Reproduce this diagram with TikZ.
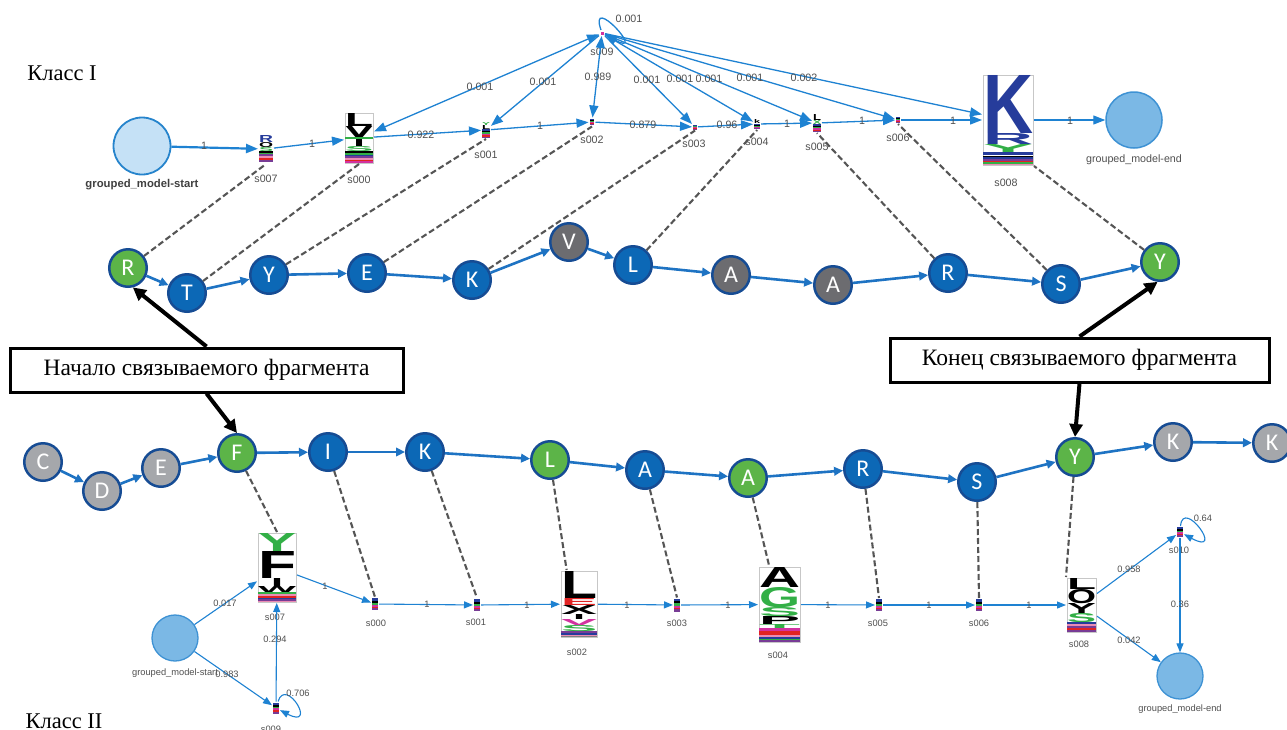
\documentclass[tikz,border=0pt]{standalone}
\usepackage{fontspec}
\setmainfont{Liberation Serif}
\newfontfamily\arial{Liberation Sans}
\newfontfamily\calibri{Carlito}
\usepackage{graphicx}
\usetikzlibrary{arrows.meta,calc}
\definecolor{seqblue}{RGB}{12,104,182}
\definecolor{seqborder}{RGB}{22,76,148}
\definecolor{seqgreen}{RGB}{92,180,72}
\definecolor{seqdark}{RGB}{108,108,112}
\definecolor{seqlight}{RGB}{165,167,171}
\definecolor{seqarrow}{RGB}{30,115,195}
\definecolor{hmmblue}{RGB}{30,130,210}
\definecolor{startfill}{RGB}{197,225,246}
\definecolor{startborder}{RGB}{38,132,204}
\definecolor{endfill}{RGB}{123,184,229}
\definecolor{endborder}{RGB}{62,146,212}
\definecolor{labgray}{RGB}{80,80,80}
\definecolor{dashgray}{RGB}{85,85,85}
\definecolor{logoblue}{RGB}{38,60,155}
\definecolor{logogreen}{RGB}{50,175,70}
\definecolor{logored}{RGB}{225,35,35}
\definecolor{logomag}{RGB}{210,50,160}
\definecolor{logopurple}{RGB}{120,60,150}
\definecolor{logopink}{RGB}{235,140,180}
\newcounter{lgc}
\newcommand\lgl[6]{\stepcounter{lgc}\node[anchor=north west,inner sep=0pt,outer sep=0pt,text=#5] (lg\thelgc) at (#1,#2) {\resizebox{#3pt}{#4pt}{\arial\bfseries #6}};}
\newcommand\lgs[5]{\fill[#5] (#1,#2) rectangle ++(#3,#4);}
\newcommand\tinylogo[4]{%
 \begin{scope}[shift={(#1,#2)},xscale=#3/6,yscale=#4/12]
 \fill[logoblue] (-3,-6) rectangle (3,-3.5);
 \fill[black] (-3,-3.5) rectangle (3,-1.5);
 \fill[logogreen] (-3,-1.5) rectangle (3,0.5);
 \fill[logomag] (-3,0.5) rectangle (3,2.5);
 \fill[logored] (-3,2.5) rectangle (3,4);
 \fill[logopurple] (-3,4) rectangle (3,6);
 \end{scope}}
\tikzset{
 seqn/.style={circle, minimum size=37.5pt, inner sep=0pt, draw=seqborder, line width=2.5pt, text=white, font=\calibri\fontsize{24}{24}\selectfont},
 sb/.style={seqn, fill=seqblue},
 sg/.style={seqn, fill=seqgreen},
 sd/.style={seqn, fill=seqdark},
 sl/.style={seqn, fill=seqlight},
 sarr/.style={draw=seqarrow, line width=2.6pt, -{Triangle[length=9pt,width=8.5pt]}},
 st/.style={rectangle, inner sep=0pt, outer sep=1pt},
 hedge/.style={draw=hmmblue, line width=1.3pt, -{Triangle[length=12pt,width=9pt]}},
 hboth/.style={draw=hmmblue, line width=1.3pt, {Triangle[length=12pt,width=9pt]}-{Triangle[length=12pt,width=9pt]}},
 hedgeb/.style={draw=hmmblue, line width=1.1pt, -{Triangle[length=9pt,width=7pt]}},
 tlab/.style={font=\arial\fontsize{10.7}{11}\selectfont, text=labgray, inner sep=0pt},
 blab/.style={font=\arial\fontsize{9.3}{10}\selectfont, text=labgray, inner sep=0pt},
 algn/.style={draw=dashgray, line width=2.1pt, dash pattern=on 6pt off 3pt},
 blk/.style={draw=black, line width=4pt, -{Triangle[length=13pt,width=13pt]}},
 cbox/.style={draw=black, line width=3pt, fill=white, inner sep=0pt, font=\fontsize{23.5}{24}\selectfont},
 lgframe/.style={draw=black!22, line width=0.6pt},
}
\begin{document}
\begin{tikzpicture}[x=1pt,y=-1pt]
\useasboundingbox (0,0) rectangle (1287,729);
\fill[white] (0,0) rectangle (1287,729);

% ---------- class labels
\node[anchor=base, inner sep=0pt, font=\fontsize{22.5}{23}\selectfont] (cls1) at (62,80) {Класс I};
\node[anchor=base, inner sep=0pt, font=\fontsize{22.5}{23}\selectfont] (cls2) at (64,728) {Класс II};

% ---------- top logos
\lgl{259}{135}{14}{7}{logoblue}{R}
\lgl{259}{142}{14}{5}{black}{O}
\lgl{259}{147}{14}{4}{logogreen}{S}
\lgs{259}{151}{14}{1.5}{black}
\lgs{259}{152.5}{14}{1.5}{logogreen}
\lgs{259}{154}{14}{2}{logopurple}
\lgs{259}{156}{14}{2}{logopink}
\lgs{259}{158}{14}{1.5}{logored}
\lgs{259}{159.5}{14}{2}{logopurple}

\draw[lgframe] (345,113) rectangle (373,163);
\lgl{345}{113}{28}{13}{black}{L}
\lgl{345}{126}{28}{20}{black}{Y}
\lgs{345}{137}{28}{2}{logogreen}
\lgl{345}{146}{28}{5}{logogreen}{S}
\lgs{345}{151}{28}{1.5}{black}
\lgs{345}{152.5}{28}{2}{logogreen}
\lgs{345}{154.5}{28}{1.5}{logoblue}
\lgs{345}{156}{28}{2}{logopurple}
\lgs{345}{158}{28}{1.5}{logopink}
\lgs{345}{159.5}{28}{1.5}{logored}
\lgs{345}{161}{28}{1.5}{logomag}

\lgl{482}{122}{8}{3}{logogreen}{Y}
\lgl{482}{125}{8}{4}{black}{L}
\tinylogo{486}{133.5}{8}{9}
\tinylogo{592}{122}{4}{6}
\tinylogo{695}{127}{4}{5}
\lgl{754}{119}{6}{4}{black}{k}
\tinylogo{757}{126.5}{6}{5}
\lgl{813}{114}{8}{6}{black}{L}
\lgl{813}{120}{8}{4}{logogreen}{X}
\tinylogo{817}{128}{8}{8}
\tinylogo{898}{120}{4}{6}
\fill[logomag] (600.5,31.5) rectangle (603.5,34.5);

\draw[lgframe] (983,75) rectangle (1033,165);
\lgl{983}{75}{50}{58}{logoblue}{K}
\lgl{983}{133}{50}{11}{logoblue}{R}
\lgl{983}{144}{50}{8}{logogreen}{Y}
\lgs{983}{152}{50}{3}{logoblue}
\lgs{983}{155.5}{50}{1.5}{black}
\lgs{983}{157}{50}{2}{logoblue}
\lgs{983}{159}{50}{1.5}{logopurple}
\lgs{983}{160.5}{50}{1.5}{logored}
\lgs{983}{162}{50}{1.5}{logogreen}
\lgs{983}{163.5}{50}{1.5}{logopink}

% ---------- top HMM nodes
\node[circle, minimum size=57pt, inner sep=0pt, draw=startborder, fill=startfill, line width=1.8pt] (tS) at (142,146) {};
\node[st, minimum width=14pt, minimum height=28pt] (t7) at (266,149) {};
\node[st, minimum width=28pt, minimum height=50pt] (t0) at (359,138) {};
\node[st, minimum width=8pt, minimum height=16pt] (t1) at (486,130) {};
\node[st, minimum width=5pt, minimum height=7pt] (t2) at (592,122) {};
\node[st, minimum width=4pt, minimum height=5pt] (t3) at (695,127) {};
\node[st, minimum width=6pt, minimum height=10pt] (t4) at (757,124) {};
\node[st, minimum width=8pt, minimum height=18pt] (t5) at (817,123) {};
\node[st, minimum width=4pt, minimum height=6pt] (t6) at (898,120) {};
\node[st, minimum width=50pt, minimum height=90pt] (t8) at (1008,120) {};
\node[circle, minimum size=56pt, inner sep=0pt, draw=endborder, fill=endfill, line width=1.5pt] (tE) at (1134,120) {};
\node[st, minimum width=4pt, minimum height=4pt] (t9) at (602,33) {};

% top state labels
\node[inner sep=0pt, font=\arial\bfseries\fontsize{11.3}{12}\selectfont, text=black!75] (tSl) at (142,185) {grouped\_model-start};
\node[tlab] (t7l) at (266,179) {s007};
\node[tlab] (t0l) at (359,180) {s000};
\node[tlab] (t1l) at (486,155) {s001};
\node[tlab] (t2l) at (592,140) {s002};
\node[tlab] (t3l) at (694,144) {s003};
\node[tlab] (t4l) at (757,142) {s004};
\node[tlab] (t5l) at (817,147) {s005};
\node[tlab] (t6l) at (898,138) {s006};
\node[tlab] (t8l) at (1006,183) {s008};
\node[tlab] (t9l) at (602,52) {s009};
\node[tlab] (tEl) at (1134,160) {grouped\_model-end};

% top edges
\draw[hedge, line width=2.2pt] (tS) -- (t7);
\draw[hedge] (t7) -- (t0);
\draw[hedge] (t0) -- (t1);
\draw[hedge] (t1) -- (t2);
\draw[hedge] (t2) -- (t3);
\draw[hedge] (t3) -- (t4);
\draw[hedge] (t4) -- (t5);
\draw[hedge] (t5) -- (t6);
\draw[hedge] (t6) -- (t8);
\draw[hedge] (t8) -- (tE);
\draw[hboth] (t0) -- (t9);
\draw[hedge] (t9) -- (t1);
\draw[hboth] (t9) -- (t2);
\draw[hedge] (t9) -- (t3);
\draw[hedge] (t9) -- (t4);
\draw[hedge] (t9) -- (t5);
\draw[hedge] (t9) -- (t6);
\draw[hedge] (t9) -- (t8);
\draw[hedge] (t9) .. controls (588,-8) and (648,58) .. (t9);

% top edge labels
\node[tlab] (e1) at (204,146) {1};
\node[tlab] (e2) at (312,144) {1};
\node[tlab] (e3) at (421,135) {0.922};
\node[tlab] (e4) at (540,126) {1};
\node[tlab] (e5) at (643,125) {0.879};
\node[tlab] (e6) at (727,125) {0.96};
\node[tlab] (e7) at (787,124) {1};
\node[tlab] (e8) at (862,121) {1};
\node[tlab] (e9) at (953,121) {1};
\node[tlab] (e10) at (1070,121) {1};
\node[tlab] (e11) at (480,87) {0.001};
\node[tlab] (e12) at (543,82) {0.001};
\node[tlab] (e13) at (598,77) {0.989};
\node[tlab] (e14) at (647,80) {0.001};
\node[tlab] (e15) at (680,79) {0.001};
\node[tlab] (e16) at (709,79) {0.001};
\node[tlab] (e17) at (750,78) {0.001};
\node[tlab] (e18) at (804,78) {0.002};
\node[tlab] (e19) at (629,19) {0.001};

% ---------- top sequence
\node[sg] (qR) at (128,268) {R};
\node[sb] (qT) at (187,293) {T};
\node[sb] (qY) at (269,275) {Y};
\node[sb] (qE) at (367,273) {E};
\node[sb] (qK) at (472,280) {K};
\node[sd] (qV) at (569,242) {V};
\node[sb] (qL) at (633,265) {L};
\node[sd] (qA) at (731,275) {A};
\node[sd] (qAA) at (833,285) {A};
\node[sb] (qRR) at (948,273) {R};
\node[sb] (qS) at (1061,284) {S};
\node[sg] (qYY) at (1160,262) {Y};
\draw[sarr] (qR) -- (qT);
\draw[sarr] (qT) -- (qY);
\draw[sarr] (qY) -- (qE);
\draw[sarr] (qE) -- (qK);
\draw[sarr] (qK) -- (qV);
\draw[sarr] (qV) -- (qL);
\draw[sarr] (qL) -- (qA);
\draw[sarr] (qA) -- (qAA);
\draw[sarr] (qAA) -- (qRR);
\draw[sarr] (qRR) -- (qS);
\draw[sarr] (qS) -- (qYY);

% top alignment lines
\draw[algn] (qR) -- (t7.south);
\draw[algn] (qT) -- (t0.south);
\draw[algn] (qY) -- (t1.south);
\draw[algn] (qE) -- (t2.south);
\draw[algn] (qK) -- (t3.south);
\draw[algn] (qL) -- (t4.south);
\draw[algn] (qRR) -- (t5.south);
\draw[algn] (qS) -- (t6.south);
\draw[algn] (qYY) -- (t8.south east);

% ---------- boxes and black arrows
\node[cbox, minimum width=393pt, minimum height=44pt] (box1) at (206.5,370) {Начало связываемого фрагмента};
\node[cbox, minimum width=379pt, minimum height=44pt] (box2) at (1079.5,360) {Конец связываемого фрагмента};

% ---------- bottom sequence
\node[sl] (pC) at (43,462) {C};
\node[sl] (pD) at (102,491) {D};
\node[sl] (pE) at (161,468) {E};
\node[sg] (pF) at (237,453) {F};
\node[sb] (pI) at (328,452) {I};
\node[sb] (pK) at (425,452) {K};
\node[sg] (pL) at (550,460) {L};
\node[sb] (pA) at (645,470) {A};
\node[sg] (pAA) at (748,478) {A};
\node[sb] (pR) at (863,469) {R};
\node[sb] (pS) at (977,482) {S};
\node[sg] (pY) at (1075,457) {Y};
\node[sl] (pK2) at (1173,442) {K};
\node[sl] (pK3) at (1272,443) {K};
\draw[sarr] (pC) -- (pD);
\draw[sarr] (pD) -- (pE);
\draw[sarr] (pE) -- (pF);
\draw[sarr] (pF) -- (pI);
\draw[sarr] (pI) -- (pK);
\draw[sarr] (pK) -- (pL);
\draw[sarr] (pL) -- (pA);
\draw[sarr] (pA) -- (pAA);
\draw[sarr] (pAA) -- (pR);
\draw[sarr] (pR) -- (pS);
\draw[sarr] (pS) -- (pY);
\draw[sarr] (pY) -- (pK2);
\draw[sarr] (pK2) -- (pK3);

\draw[blk] (box1.north) -- (qR.-76);
\draw[blk] (box1.south) -- (pF.north);
\draw[blk] (box2.north) -- (qYY.-97);
\draw[blk] (box2.south) -- (pY.north);

% ---------- bottom logos
\draw[lgframe] (258,533) rectangle (296,602);
\lgl{258}{533}{38}{18}{logogreen}{Y}
\lgl{258}{551}{38}{27}{black}{F}
\lgl{271}{578}{12}{8}{black}{I}
\lgl{258}{586}{38}{6}{black}{W}
\lgs{258}{592}{38}{2}{logogreen}
\lgs{258}{594}{38}{1.5}{logopink}
\lgs{258}{595.5}{38}{2}{logored}
\lgs{258}{597.5}{38}{1.5}{logoblue}
\lgs{258}{599}{38}{1.5}{logopurple}
\lgs{258}{600.5}{38}{1.5}{logopink}

\draw[lgframe] (561,571) rectangle (597,637);
\lgl{561}{571}{36}{27}{black}{L}
\lgl{561}{598}{36}{7}{logored}{E}
\lgl{561}{605}{36}{9}{black}{X}
\lgl{573}{614}{12}{5}{black}{I}
\lgl{561}{619}{36}{6}{logomag}{V}
\lgl{561}{625}{36}{6}{logogreen}{S}
\lgs{561}{631}{36}{2}{logopurple}
\lgs{561}{633}{36}{1.5}{logoblue}
\lgs{561}{634.5}{36}{1.5}{logopink}
\lgs{561}{636}{36}{1}{black!50}

\draw[lgframe] (759,567) rectangle (800,642);
\lgl{759}{567}{41}{20}{black}{A}
\lgl{759}{587}{41}{20}{logogreen}{G}
\lgl{759}{607}{41}{9}{logogreen}{S}
\lgl{759}{616}{41}{8}{black}{P}
\lgl{759}{624}{41}{4}{logogreen}{T}
\lgs{759}{628}{41}{3}{logomag}
\lgs{759}{631}{41}{4}{logored}
\lgs{759}{635}{41}{1.5}{logopink}
\lgs{759}{636.5}{41}{2}{logoblue}
\lgs{759}{638.5}{41}{1.5}{logogreen}
\lgs{759}{640}{41}{2}{logopurple}

\draw[lgframe] (1067,578) rectangle (1096,632);
\lgl{1067}{578}{29}{11}{black}{L}
\lgl{1067}{589}{29}{14}{black}{O}
\lgl{1067}{603}{29}{10}{black}{Y}
\lgl{1067}{613}{29}{9}{logogreen}{S}
\lgs{1067}{622}{29}{2}{logoblue}
\lgs{1067}{624}{29}{2}{logopink}
\lgs{1067}{626}{29}{2}{logopurple}
\lgs{1067}{628}{29}{1.5}{logored}
\lgs{1067}{629.5}{29}{2}{logopurple}

\tinylogo{375}{604}{6}{12}
\tinylogo{477}{605}{6}{12}
\tinylogo{677}{605}{6}{13}
\tinylogo{879}{605}{6}{12}
\tinylogo{979}{605}{6}{12}
\tinylogo{276}{708}{6}{11}
\tinylogo{1180}{532}{6}{10}

% ---------- bottom HMM nodes
\node[circle, minimum size=46pt, inner sep=0pt, draw=endborder, fill=endfill, line width=1.3pt] (bS) at (175,638) {};
\node[st, minimum width=38pt, minimum height=69pt] (b7) at (277,567.5) {};
\node[st, minimum width=6pt, minimum height=11pt] (b9) at (276,708) {};
\node[st, minimum width=6pt, minimum height=12pt] (b0) at (375,604) {};
\node[st, minimum width=6pt, minimum height=12pt] (b1) at (477,605) {};
\node[st, minimum width=36pt, minimum height=66pt] (b2) at (579,604) {};
\node[st, minimum width=6pt, minimum height=13pt] (b3) at (677,605) {};
\node[st, minimum width=41pt, minimum height=75pt] (b4) at (779.5,604.5) {};
\node[st, minimum width=6pt, minimum height=12pt] (b5) at (879,605) {};
\node[st, minimum width=6pt, minimum height=12pt] (b6) at (979,605) {};
\node[st, minimum width=29pt, minimum height=54pt] (b8) at (1081.5,605) {};
\node[st, minimum width=6pt, minimum height=10pt] (b10) at (1180,532) {};
\node[circle, minimum size=46pt, inner sep=0pt, draw=endborder, fill=endfill, line width=1.3pt] (bE) at (1180,676) {};

% bottom state labels
\node[blab] (bSl) at (175,673) {grouped\_model-start};
\node[blab] (b7l) at (275,617) {s007};
\node[blab] (b9l) at (271,729) {s009};
\node[blab] (b0l) at (376,623) {s000};
\node[blab] (b1l) at (476,622) {s001};
\node[blab] (b2l) at (577,652) {s002};
\node[blab] (b3l) at (677,623) {s003};
\node[blab] (b4l) at (778,655) {s004};
\node[blab] (b5l) at (878,623) {s005};
\node[blab] (b6l) at (979,623) {s006};
\node[blab] (b8l) at (1079,644) {s008};
\node[blab] (b10l) at (1179,550) {s010};
\node[blab] (bEl) at (1180,709) {grouped\_model-end};

% bottom edges
\draw[hedgeb] (bS) -- (b7);
\draw[hedgeb] (bS) -- (b9);
\draw[hedgeb] (b9) -- (b7);
\draw[hedgeb] (b9) .. controls (286,676) and (318,730) .. (b9);
\draw[hedgeb] (b7) -- (b0);
\draw[hedgeb] (b0) -- (b1);
\draw[hedgeb] (b1) -- (b2);
\draw[hedgeb] (b2) -- (b3);
\draw[hedgeb] (b3) -- (b4);
\draw[hedgeb] (b4) -- (b5);
\draw[hedgeb] (b5) -- (b6);
\draw[hedgeb] (b6) -- (b8);
\draw[hedgeb] (b8) -- (b10);
\draw[hedgeb] (b8) -- (bE);
\draw[hedgeb] (b10) -- (bE);
\draw[hedgeb] (b10) .. controls (1183,497) and (1226,557) .. (b10);

% bottom edge labels
\node[blab] (f1) at (225,603) {0.017};
\node[blab] (f2) at (227,674) {0.983};
\node[blab] (f3) at (275,639) {0.294};
\node[blab] (f4) at (298,693) {0.706};
\node[blab] (f5) at (325,586) {1};
\node[blab] (f6) at (427,604) {1};
\node[blab] (f7) at (527,605) {1};
\node[blab] (f8) at (627,605) {1};
\node[blab] (f9) at (728,605) {1};
\node[blab] (f10) at (828,605) {1};
\node[blab] (f11) at (929,605) {1};
\node[blab] (f12) at (1029,605) {1};
\node[blab] (f13) at (1129,569) {0.958};
\node[blab] (f14) at (1129,640) {0.042};
\node[blab] (f15) at (1180,604) {0.36};
\node[blab] (f16) at (1203,518) {0.64};

% bottom alignment lines
\draw[algn] (pF) -- (b7.north);
\draw[algn] (pI) -- (b0.north);
\draw[algn] (pK) -- (b1.north);
\draw[algn] (pL) -- (b2.110);
\draw[algn] (pA) -- (b3.north);
\draw[algn] (pAA) -- (b4.105);
\draw[algn] (pR) -- (b5.north);
\draw[algn] (pS) -- (b6.north);
\draw[algn] (pY) -- (b8.north west);
\end{tikzpicture}
\end{document}
